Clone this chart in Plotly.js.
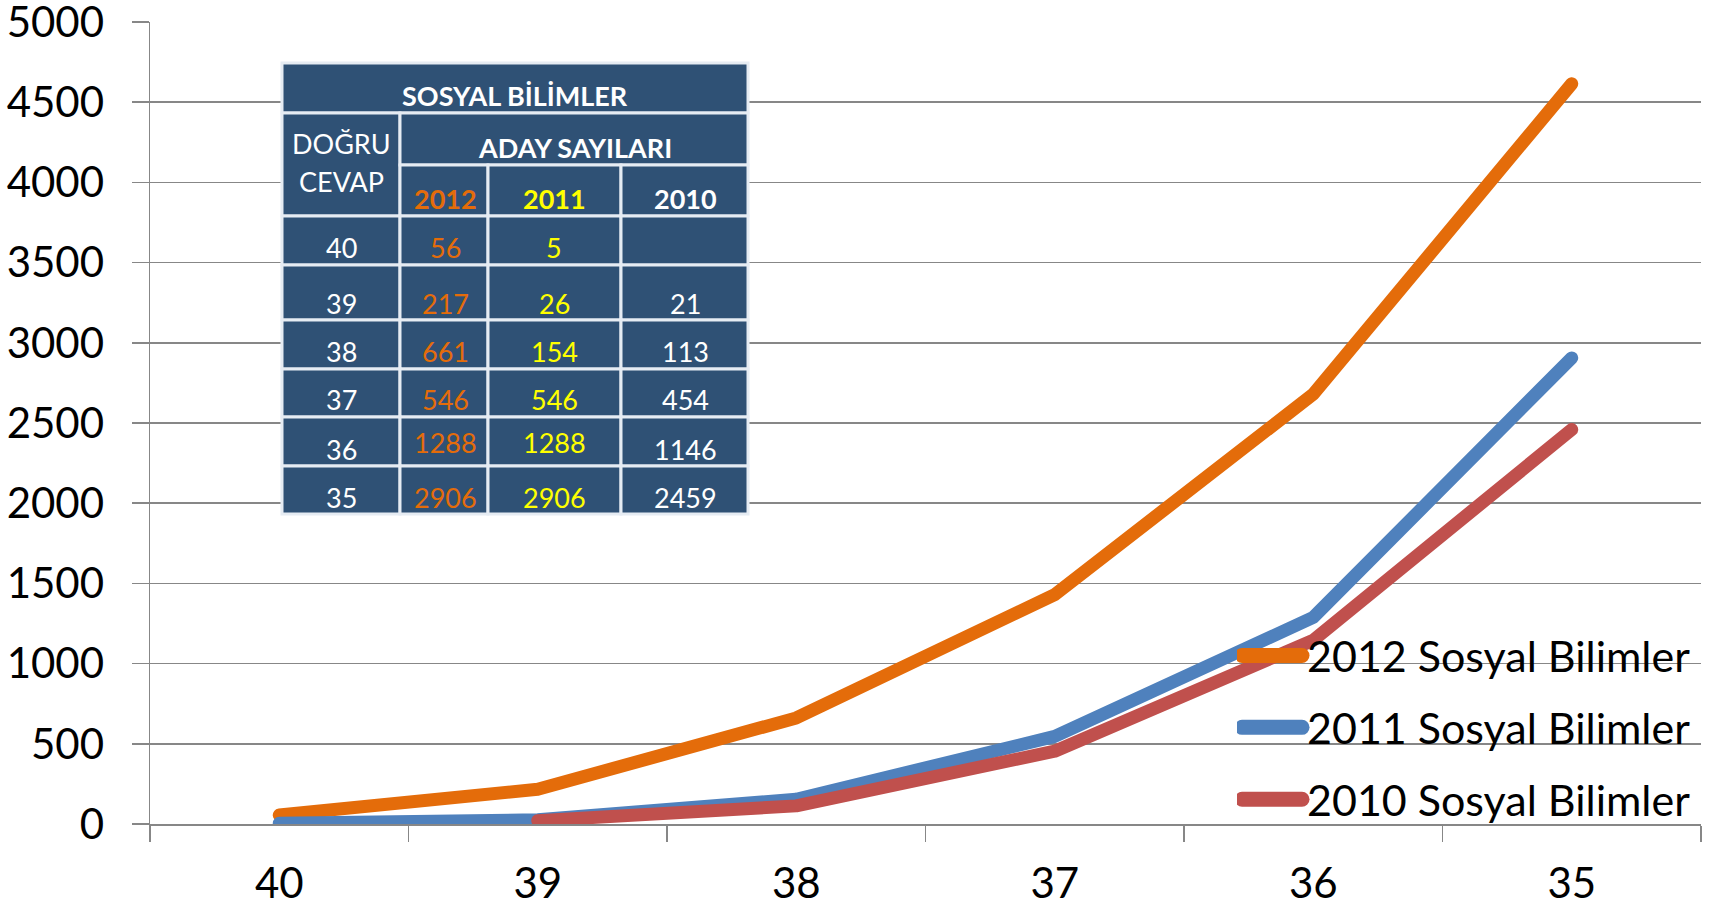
<!DOCTYPE html>
<html><head><meta charset="utf-8">
<script src="https://cdn.plot.ly/plotly-3.0.1.min.js"></script>
<style>
html,body{margin:0;padding:0;background:#fff;}
#chart{width:1719px;height:908px;}
.scatterlayer .js-line{stroke-linecap:round;stroke-linejoin:round;}
.legendlines path{stroke-linecap:round;stroke-width:15px !important;}
</style></head><body><div id="chart"></div>
<script>
// ---- chart data ----
const categories = ['40', '39', '38', '37', '36', '35'];
const values2012 = [56, 217, 661, 1430, 2680, 4615];
const values2011 = [5, 26, 154, 546, 1288, 2906];
const values2010 = [null, 21, 113, 454, 1146, 2459];
const seriesNames = ['2012 Sosyal Bilimler', '2011 Sosyal Bilimler', '2010 Sosyal Bilimler'];
const yTickVals = [0, 500, 1000, 1500, 2000, 2500, 3000, 3500, 4000, 4500, 5000];

// ---- inset table data ----
const tableTitle = 'SOSYAL BİLİMLER';
const tableRowHeader = ['DOĞRU', 'CEVAP'];
const tableGroupHeader = 'ADAY SAYILARI';
const tableYears = ['2012', '2011', '2010'];
const tableCorrect = ['40', '39', '38', '37', '36', '35'];
const table2012 = ['56', '217', '661', '546', '1288', '2906'];
const table2011 = ['5', '26', '154', '546', '1288', '2906'];
const table2010 = ['', '21', '113', '454', '1146', '2459'];

// ---- styles / geometry ----
const W = 1719, H = 908;
const M = {l: 150, r: 18, t: 22, b: 84};
const PW = W - M.l - M.r, PH = H - M.t - M.b;
const px = X => (X - M.l) / PW;
const py = Y => (H - M.b - Y) / PH;

const colors = ['#E46C0A', '#4F81BD', '#C0504D'];
const gridCol = '#878787';
const cellFill = '#2F5175';
const cellLine = '#E6ECF3';
const yearColors = ['#E46C0A', '#FFFF00', '#FFFFFF'];

const colEdges = [282, 400, 488, 621, 748];
const rowEdges = [216, 265, 320, 369, 417, 466, 514];
const colCenters = [341, 445, 554, 685];
const rowTextY = [247, 303, 351, 400, 449, 497];

const traces = [values2012, values2011, values2010].map((v, i) => ({
  type: 'scatter', mode: 'lines', x: categories, y: v, name: seriesNames[i],
  legendgroup: 'g' + i,
  line: {color: colors[i], width: 13},
  connectgaps: false, hoverinfo: 'x+y+name'
}));

const shapes = [];
function cell(x0, x1, y0, y1) {
  shapes.push({type: 'rect', xref: 'paper', yref: 'paper', layer: 'above',
    x0: px(x0), x1: px(x1), y0: py(y1), y1: py(y0),
    fillcolor: cellFill, line: {color: cellLine, width: 3}});
}
cell(282, 748, 63, 113);
cell(282, 400, 113, 216);
cell(400, 748, 113, 165);
for (let c = 1; c < 4; c++) cell(colEdges[c], colEdges[c + 1], 165, 216);
for (let r = 0; r < 6; r++) for (let c = 0; c < 4; c++) cell(colEdges[c], colEdges[c + 1], rowEdges[r], rowEdges[r + 1]);

const annotations = [];
function txt(t, X, Y, color, bold) {
  annotations.push({xref: 'paper', yref: 'paper', x: px(X), y: py(Y), xanchor: 'center', yanchor: 'middle',
    text: bold ? '<b>' + t + '</b>' : t, showarrow: false,
    font: {family: 'Lato', size: 27, color: color}});
}
txt(tableTitle, 515, 95, '#FFFFFF', true);
txt(tableRowHeader[0], 341, 144, '#FFFFFF', false);
txt(tableRowHeader[1], 341, 181, '#FFFFFF', false);
txt(tableGroupHeader, 575, 147, '#FFFFFF', true);
tableYears.forEach((y, i) => txt(y, colCenters[i + 1], 198, yearColors[i], true));
const tableCols = [table2012, table2011, table2010];
tableCorrect.forEach((v, r) => {
  txt(v, colCenters[0], rowTextY[r], '#FFFFFF', false);
  tableCols.forEach((col, i) => {
    if (col[r] !== '') {
      const yy = (r === 4 && i < 2) ? rowTextY[r] - 7 : rowTextY[r];
      txt(col[r], colCenters[i + 1], yy, yearColors[i], false);
    }
  });
});

const layout = {
  width: W, height: H,
  margin: M,
  paper_bgcolor: '#FFFFFF', plot_bgcolor: '#FFFFFF',
  font: {family: 'Lato', size: 42, color: '#000000'},
  showlegend: true,
  legend: {x: px(1237), y: py(621), xanchor: 'left', yanchor: 'top',
    bgcolor: 'rgba(0,0,0,0)', font: {family: 'Lato', size: 43, color: '#000'},
    itemwidth: 60, tracegroupgap: 13, traceorder: 'grouped'},
  xaxis: {type: 'category', range: [-0.5, 5.5], tickson: 'boundaries', ticks: 'outside', ticklen: 16,
    tickwidth: 1.5, tickcolor: gridCol, showline: true, linecolor: gridCol, linewidth: 1.5,
    showgrid: false, zeroline: false, ticklabelstandoff: 22, ticklabeloverflow: 'allow',
    tickfont: {family: 'Lato', size: 42, color: '#000'}},
  yaxis: {range: [0, 5000], tickmode: 'array', tickvals: yTickVals, ticks: 'outside', ticklen: 17,
    tickwidth: 1.5, tickcolor: gridCol, showline: true, linecolor: gridCol, linewidth: 1.5,
    showgrid: true, gridcolor: gridCol, gridwidth: 1.5, zeroline: false, ticklabelstandoff: 19,
    ticklabeloverflow: 'allow',
    tickfont: {family: 'Lato', size: 42, color: '#000'}},
  shapes: shapes,
  annotations: annotations
};
Plotly.newPlot('chart', traces, layout, {staticPlot: true, displayModeBar: false});
</script></body></html>
